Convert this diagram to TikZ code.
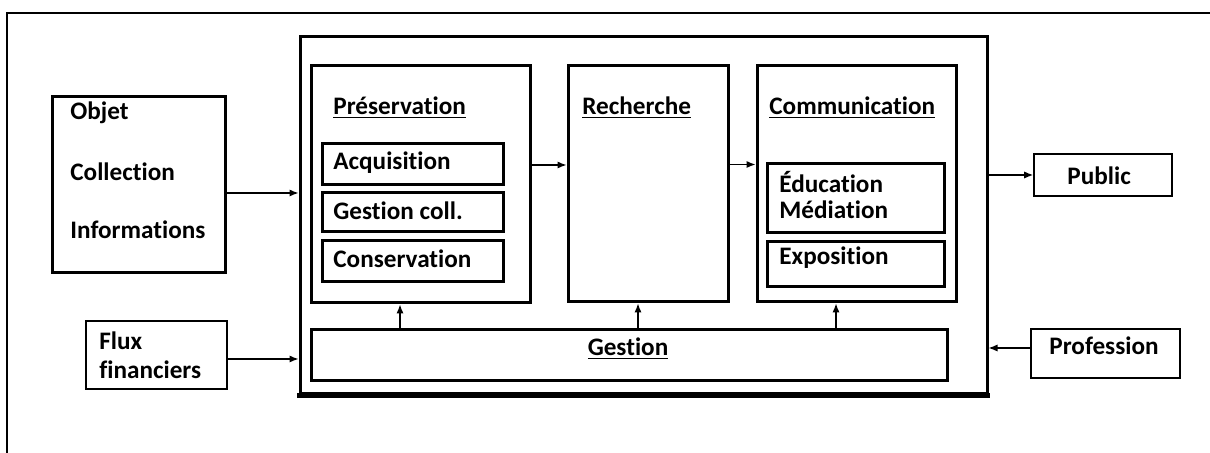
\documentclass[tikz,border=0pt]{standalone}
\usepackage{fontspec}
\setmainfont{Carlito}[Ligatures=NoCommon]
\usetikzlibrary{fit,arrows.meta}
\begin{document}
\begin{tikzpicture}[x=0.5pt,y=-0.5pt,
  thickbox/.style={draw,line width=1.5pt,inner sep=0pt},
  thinbox/.style={draw,line width=0.8pt,inner sep=0pt},
  lbl/.style={anchor=west,inner sep=0pt,font=\fontsize{12.6}{14}\selectfont\bfseries},
  clbl/.style={anchor=center,inner sep=0pt,font=\fontsize{12.6}{14}\selectfont\bfseries},
  arr/.style={line width=0.65pt,-{Latex[length=4.5pt,width=3.6pt]}}]
\useasboundingbox (0,0) rectangle (1210,453);
\fill[white] (0,0) rectangle (1210,453);
% outer frame
\draw[line width=0.8pt] (7,453) -- (7,13) -- (1210,13);
% boxes
\node[thickbox,fit={(52,97) (225,273)}] (objet) {};
\node[thinbox,fit={(86,321) (227,389)}] (flux) {};
\node[thickbox,fit={(300,37) (987,394)}] (big) {};
\draw[line width=2.6pt] ([xshift=-0.75pt]big.south west) -- ([xshift=0.75pt]big.south east);
\node[thickbox,fit={(311,66) (530,303)}] (pres) {};
\node[thickbox,fit={(322,144) (503,185)}] (acq) {};
\node[thickbox,fit={(322,193) (503,232)}] (gcoll) {};
\node[thickbox,fit={(322,241) (503,282)}] (cons) {};
\node[thickbox,fit={(568,66) (728,302)}] (rech) {};
\node[thickbox,fit={(757,66) (956,302)}] (comm) {};
\node[thickbox,fit={(767,164) (944,233)}] (edu) {};
\node[thickbox,fit={(767,242) (944,287)}] (expo) {};
\node[thickbox,fit={(311,330) (947,381)}] (gestion) {};
\node[thinbox,fit={(1034,154) (1172,196)}] (public) {};
\node[thinbox,fit={(1031,329) (1180,378)}] (prof) {};
% labels
\node[lbl] (t1) at (70,113) {Objet};
\node[lbl] (t2) at (70,172) {Collection};
\node[lbl] (t3) at (70,230) {Informations};
\node[lbl] (t4) at (99,341) {Flux};
\node[lbl] (t5) at (99,370) {financiers};
\node[lbl] (t6) at (333,108) {\underline{Préservation}};
\node[lbl] (t7) at (333,163) {Acquisition};
\node[lbl] (t8) at (333,211) {Gestion coll.};
\node[lbl] (t9) at (333,259) {Conservation};
\node[lbl] (t10) at (582,108) {\underline{Recherche}};
\node[lbl] (t11) at (769,108) {\underline{Communication}};
\node[lbl] (t12) at (779,182) {Éducation};
\node[lbl] (t13) at (779,210) {Médiation};
\node[lbl] (t14) at (779,258) {Exposition};
\node[clbl] (t15) at (628,349) {\underline{Gestion}};
\node[lbl] (t16) at (1067,176) {Public};
\node[lbl] (t17) at (1049,346) {Profession};
% connectors
\draw[arr] ([yshift=-4pt]objet.east) -- ([yshift=-4pt]objet.east -| big.west);
\draw[arr] ([yshift=-2pt]flux.east) -- ([yshift=-2pt]flux.east -| big.west);
\draw[arr] ([yshift=9.75pt]pres.east) -- ([yshift=9.75pt]pres.east -| rech.west);
\draw[arr] ([yshift=9.75pt]rech.east) -- ([yshift=9.75pt]rech.east -| comm.west);
\draw[arr] (public.west -| big.east) -- (public.west);
\draw[arr] ([yshift=2.75pt]prof.west) -- ([yshift=2.75pt]prof.west -| big.east);
\draw[arr] ([xshift=-10.25pt]pres.south |- gestion.north) -- ([xshift=-10.25pt]pres.south);
\draw[arr] ([xshift=-5pt]rech.south |- gestion.north) -- ([xshift=-5pt]rech.south);
\draw[arr] ([xshift=-10.25pt]comm.south |- gestion.north) -- ([xshift=-10.25pt]comm.south);
\end{tikzpicture}
\end{document}
